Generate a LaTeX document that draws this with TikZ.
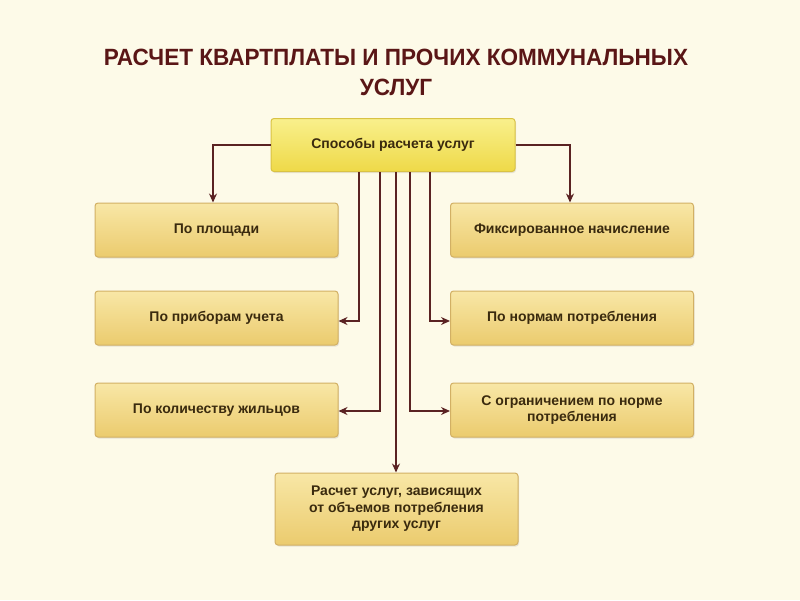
\documentclass[tikz,border=0pt]{standalone}
\usepackage{fontspec}
\setmainfont{Liberation Sans}
\usetikzlibrary{arrows.meta,shadows}
\definecolor{bgc}{HTML}{FDFAE8}
\definecolor{ttl}{HTML}{5A1616}
\definecolor{txt}{HTML}{3A2A0E}
\definecolor{lnc}{HTML}{5A2222}
\definecolor{boxtop}{HTML}{F8E7A6}
\definecolor{boxbot}{HTML}{EBCB6E}
\definecolor{boxbrd}{HTML}{D2B064}
\definecolor{maintop}{HTML}{F9F08C}
\definecolor{mainbot}{HTML}{EED948}
\definecolor{mainbrd}{HTML}{D9C244}
\tikzset{
  x=1pt,y=-1pt,
  box/.style={draw=boxbrd,line width=1pt,rounded corners=3pt,top color=boxtop,bottom color=boxbot,
    minimum width=243pt,minimum height=54pt,align=center,text=txt,
    font=\fontsize{14}{16.5}\selectfont\bfseries,inner sep=2pt,
    drop shadow={shadow xshift=1pt,shadow yshift=-1.5pt,opacity=0.18}},
  mainbox/.style={box,draw=mainbrd,top color=maintop,bottom color=mainbot,minimum width=244pt,minimum height=53pt},
  conn/.style={draw=lnc,line width=1.3pt,-{Stealth[length=9pt,width=8pt]}},
  plain/.style={draw=lnc,line width=1.3pt}
}
\begin{document}
\begin{tikzpicture}
\fill[bgc] (0,0) rectangle (800,600);
\useasboundingbox (0,0) rectangle (800,600);
\node[text=ttl,font=\fontsize{23.5}{30}\selectfont\bfseries,align=center] (title) at (396,72)
  {\scalebox{0.96}[1]{РАСЧЕТ КВАРТПЛАТЫ И ПРОЧИХ КОММУНАЛЬНЫХ}\\\scalebox{0.96}[1]{УСЛУГ}};
\node[mainbox] (m) at (393,145) {Способы расчета услуг};
\node[box] (l1) at (216.5,230) {По площади};
\node[box] (l2) at (216.5,318) {По приборам учета};
\node[box] (l3) at (216.5,410) {По количеству жильцов};
\node[box] (r1) at (572,230) {Фиксированное начисление};
\node[box] (r2) at (572,318) {По нормам потребления};
\node[box] (r3) at (572,410) {С ограничением по норме\\потребления};
\node[box,minimum height=72pt] (b) at (396.5,509) {Расчет услуг, зависящих\\от объемов потребления\\других услуг};
\coordinate (ml) at (213,145);
\coordinate (mr) at (570,145);
\draw[conn] (m.west) -- (ml) -- (ml |- l1.north);
\draw[conn] (m.east) -- (mr) -- (mr |- r1.north);
\draw[conn] (m.south -| 359,0) |- (l2.east |- 0,321);
\draw[conn] (m.south -| 380,0) |- (l3.east |- 0,411);
\draw[conn] (m.south -| 396,0) -- (b.north -| 396,0);
\draw[conn] (m.south -| 410,0) |- (r3.west |- 0,411);
\draw[conn] (m.south -| 430,0) |- (r2.west |- 0,321);
\end{tikzpicture}
\end{document}
